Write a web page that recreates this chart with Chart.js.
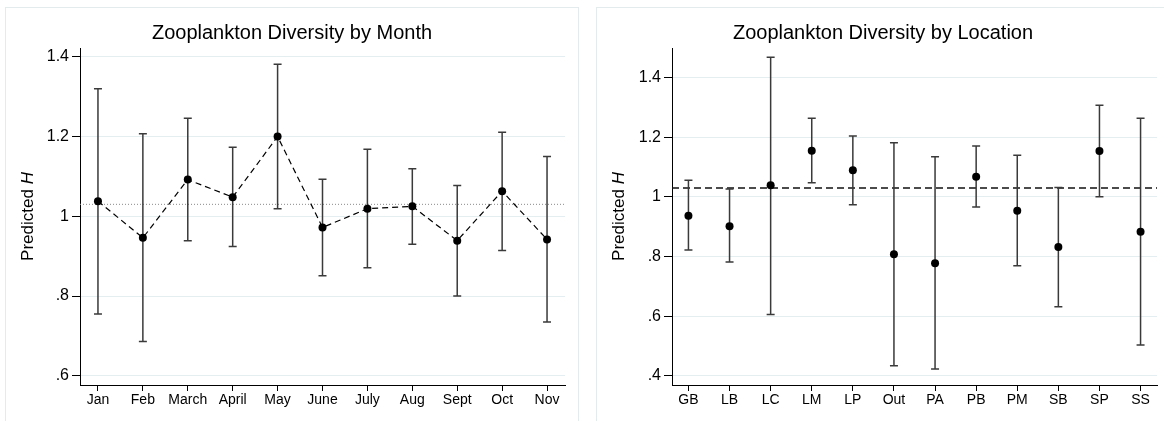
<!DOCTYPE html>
<html>
<head>
<meta charset="utf-8">
<script src="https://cdn.jsdelivr.net/npm/chart.js@4.4.1/dist/chart.umd.min.js"></script>
<style>
  html, body { margin: 0; padding: 0; background: #fff; overflow: hidden; width: 1164px; height: 421px; }
  .panel { position: absolute; top: 7px; width: 572px; height: 420px; border: 1px solid #e3ebed; background: #fff; }
  #p1 { left: 5px; }
  #p2 { left: 596px; }
  canvas { display: block; }
</style>
</head>
<body>
<div class="panel" id="p1"><canvas id="monthChart" width="572" height="413"></canvas></div>
<div class="panel" id="p2"><canvas id="locChart" width="572" height="413"></canvas></div>
<script>
const months = ['Jan', 'Feb', 'March', 'April', 'May', 'June', 'July', 'Aug', 'Sept', 'Oct', 'Nov'];
const monthH = [1.038, 0.946, 1.092, 1.048, 1.200, 0.972, 1.019, 1.025, 0.939, 1.063, 0.942];
const monthLower = [0.755, 0.686, 0.939, 0.924, 1.019, 0.851, 0.871, 0.930, 0.800, 0.914, 0.735];
const monthUpper = [1.320, 1.207, 1.246, 1.173, 1.381, 1.093, 1.168, 1.119, 1.077, 1.211, 1.150];
const monthTicks = [0.6, 0.8, 1, 1.2, 1.4];

const locations = ['GB', 'LB', 'LC', 'LM', 'LP', 'Out', 'PA', 'PB', 'PM', 'SB', 'SP', 'SS'];
const locH = [0.937, 0.902, 1.039, 1.155, 1.090, 0.808, 0.778, 1.068, 0.954, 0.832, 1.154, 0.883];
const locLower = [0.822, 0.782, 0.606, 1.048, 0.974, 0.434, 0.423, 0.966, 0.769, 0.632, 1.001, 0.503];
const locUpper = [1.056, 1.027, 1.469, 1.264, 1.205, 1.182, 1.135, 1.171, 1.140, 1.032, 1.308, 1.264];
const locTicks = [0.4, 0.6, 0.8, 1, 1.2, 1.4];

const overallMean = 1.03;

const FONT = '"Liberation Sans", Arial, Helvetica, sans-serif';

// error bars + reference line, drawn under the points
const errorBars = {
  id: 'errorBars',
  beforeDatasetsDraw(chart, args, opts) {
    const { ctx, chartArea, scales: { x, y } } = chart;
    ctx.save();
    const yRef = y.getPixelForValue(opts.refValue);
    ctx.strokeStyle = opts.refColor;
    ctx.lineWidth = opts.refWidth;
    ctx.setLineDash(opts.refDash);
    ctx.beginPath();
    ctx.moveTo(chartArea.left, yRef);
    ctx.lineTo(chartArea.right, yRef);
    ctx.stroke();

    ctx.setLineDash([]);
    ctx.strokeStyle = '#3a3a3a';
    ctx.lineWidth = 1.5;
    opts.lower.forEach((lo, i) => {
      const px = x.getPixelForValue(i);
      const top = y.getPixelForValue(opts.upper[i]);
      const bot = y.getPixelForValue(lo);
      ctx.beginPath();
      ctx.moveTo(px, top);
      ctx.lineTo(px, bot);
      ctx.moveTo(px - 4, top);
      ctx.lineTo(px + 4, top);
      ctx.moveTo(px - 4, bot);
      ctx.lineTo(px + 4, bot);
      ctx.stroke();
    });
    ctx.restore();
  }
};

// panel title and "Predicted H" with italic H
const panelText = {
  id: 'panelText',
  afterDraw(chart, args, opts) {
    const { ctx, chartArea } = chart;
    ctx.save();
    ctx.fillStyle = '#000';
    ctx.font = '20px ' + FONT;
    ctx.textAlign = 'center';
    ctx.textBaseline = 'alphabetic';
    ctx.fillText(opts.title, chart.width / 2, 31);

    const cy = (chartArea.top + chartArea.bottom) / 2;
    ctx.translate(22.5, cy);
    ctx.rotate(-Math.PI / 2);
    ctx.textAlign = 'left';
    ctx.textBaseline = 'middle';
    ctx.font = '17px ' + FONT;
    const w1 = ctx.measureText('Predicted ').width;
    ctx.font = 'italic 17px ' + FONT;
    const w2 = ctx.measureText('H').width;
    const start = -(w1 + w2) / 2;
    ctx.font = '17px ' + FONT;
    ctx.fillText('Predicted ', start, 0);
    ctx.font = 'italic 17px ' + FONT;
    ctx.fillText('H', start + w1, 0);
    ctx.restore();
  }
};

function makeChart(id, cfg) {
  const ctx = document.getElementById(id).getContext('2d');
  return new Chart(ctx, {
    type: 'scatter',
    data: {
      datasets: [{
        data: cfg.values.map((v, i) => ({ x: i, y: v })),
        showLine: cfg.connect,
        borderColor: '#000',
        borderWidth: 1.2,
        borderDash: [6, 4],
        pointRadius: 4,
        pointBackgroundColor: '#000',
        pointBorderWidth: 0
      }]
    },
    options: {
      responsive: false,
      animation: false,
      layout: { padding: { left: 0, right: cfg.padRight, top: 40, bottom: 0 } },
      plugins: {
        legend: { display: false },
        tooltip: { enabled: false },
        errorBars: {
          lower: cfg.lower,
          upper: cfg.upper,
          refValue: overallMean,
          refColor: cfg.refColor,
          refWidth: cfg.refWidth,
          refDash: cfg.refDash
        },
        panelText: { title: cfg.title }
      },
      scales: {
        x: {
          type: 'linear',
          min: -0.4,
          max: cfg.labels.length - 0.6,
          afterBuildTicks: (scale) => { scale.ticks = cfg.labels.map((_, i) => ({ value: i })); },
          afterFit: (scale) => { scale.height = 36; },
          grid: { drawOnChartArea: false, tickColor: '#000', tickLength: 6 },
          border: { color: '#000', width: 1 },
          ticks: {
            autoSkip: false,
            maxRotation: 0,
            padding: 1,
            color: '#000',
            font: { family: FONT, size: 14 },
            callback: (v) => cfg.labels[v]
          }
        },
        y: {
          min: cfg.yMin,
          max: cfg.yMax,
          afterBuildTicks: (scale) => { scale.ticks = cfg.ticks.map(v => ({ value: v })); },
          afterFit: (scale) => { scale.width = cfg.axisWidth; },
          grid: { color: '#e4eef0', lineWidth: 1, tickColor: '#000', tickLength: 8 },
          border: { color: '#000', width: 1 },
          ticks: {
            padding: 3,
            color: '#000',
            font: { family: FONT, size: 16 },
            callback: (v) => String(Math.round(v * 10) / 10).replace(/^0/, '')
          }
        }
      }
    },
    plugins: [errorBars, panelText]
  });
}

makeChart('monthChart', {
  title: 'Zooplankton Diversity by Month',
  labels: months,
  values: monthH,
  lower: monthLower,
  upper: monthUpper,
  ticks: monthTicks,
  yMin: 0.577,
  yMax: 1.422,
  connect: true,
  refColor: '#8a8a8a',
  refWidth: 1,
  refDash: [1, 2],
  axisWidth: 74,
  padRight: 13
});

makeChart('locChart', {
  title: 'Zooplankton Diversity by Location',
  labels: locations,
  values: locH,
  lower: locLower,
  upper: locUpper,
  ticks: locTicks,
  yMin: 0.369,
  yMax: 1.50,
  connect: false,
  refColor: '#111',
  refWidth: 1.5,
  refDash: [7, 4],
  axisWidth: 75,
  padRight: 12
});
</script>
</body>
</html>
